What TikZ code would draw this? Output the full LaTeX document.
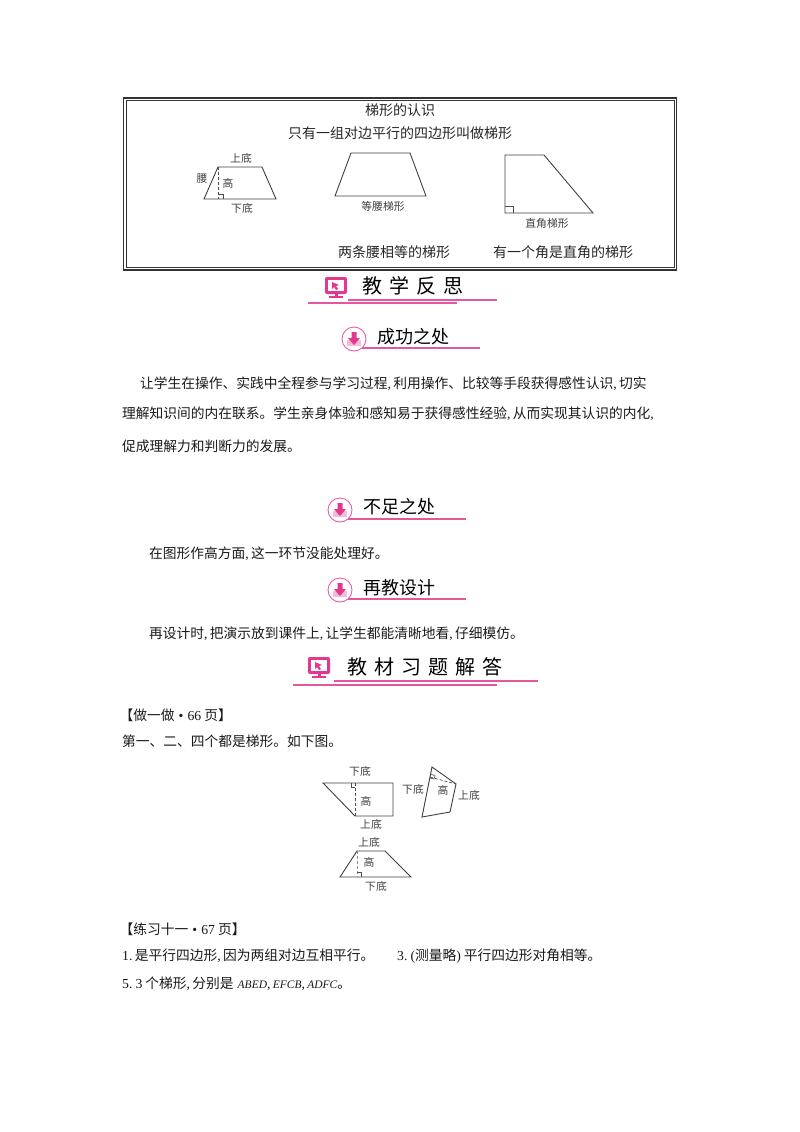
\documentclass[tikz,border=0pt]{standalone}
\usepackage{fontspec}
\setmainfont{Noto Sans CJK SC}
\newfontfamily\latinfont{Liberation Serif}
\usepackage{tikz}
\definecolor{rose}{HTML}{E2388F}
\definecolor{rosepale}{HTML}{F6BBD6}
\newcommand{\cm}{{\latinfont ,\,}}
\newcommand{\lat}[1]{{\latinfont #1}}
\newcommand{\ital}[1]{{\latinfont\itshape\fontsize{11.5}{14}\selectfont #1}}
\tikzset{
    shape line/.style={draw=black!75, line width=0.9pt},
    thin line/.style={draw=black!70, line width=0.6pt},
    height line/.style={draw=black!70, line width=0.7pt, dashed, dash pattern=on 3pt off 2pt},
    rose line/.style={draw=rose!85, line width=1.1pt},
    fig label/.style={text=black!75, font=\fontsize{10.8}{12}\selectfont, inner sep=0pt},
    box text/.style={text=black!85, font=\fontsize{14}{16}\selectfont, inner sep=0pt},
    body text/.style={text=black!90, font=\fontsize{13.75}{16}\selectfont, inner sep=0pt, anchor=west},
    sub head/.style={text=black, font=\fontsize{18}{21}\selectfont, inner sep=0pt},
    main head/.style={text=black, font=\fontsize{20}{24}\selectfont, inner sep=0pt},
    pics/downicon/.style={code={
        \draw[rose!80, line width=0.9pt, fill=white] (0,0) circle (12);
        \fill[rosepale] (-7,1) -- (-7,7) -- (7,7) -- (7,1) -- cycle;
        \fill[rose] (-2.5,-7) -- (2.5,-7) -- (2.5,-1) -- (6,-1) -- (0,6) -- (-6,-1) -- (-2.5,-1) -- cycle;
    }},
    pics/screenicon/.style={code={
        \fill[rose, rounded corners=2pt] (-11,-10) rectangle (11,7);
        \fill[white] (-8,-7) rectangle (8,4);
        \fill[rose] (-4,-5) -- (3,-2) -- (0,-1) -- (2,2) -- (0,3) -- (-2,0) -- (-4,2) -- cycle;
        \fill[rose] (-1.5,7) rectangle (1.5,9);
        \fill[rose] (-7,9) rectangle (7,11);
    }}
}
\begin{document}
\begin{tikzpicture}[x=1pt, y=-1pt]
\useasboundingbox (0,0) rectangle (800,1132);
\draw[black!80, line width=1.6pt] (123.5,98) rectangle (676.5,270);
\draw[black!80, line width=0.7pt] (126,100.5) rectangle (674,267.5);
\node[box text] (boxtitle) at (400,110) {梯形的认识};
\node[box text] (boxdef) at (400,133) {只有一组对边平行的四边形叫做梯形};
\node[box text, anchor=west] (boxisos) at (338,252) {两条腰相等的梯形};
\node[box text, anchor=west] (boxright) at (493,252) {有一个角是直角的梯形};
\draw[shape line] (218,167) -- (262,167) -- (276,199) -- (204,199) -- cycle;
\draw[height line] (218,167) -- (218,199);
\draw[thin line] (218,194) -- (223,194) -- (223,199);
\node[fig label] (topone) at (241,158) {上底};
\node[fig label] (highone) at (228,183) {高};
\node[fig label] (legone) at (202,179) {腰};
\node[fig label] (bottomone) at (242,208) {下底};
\draw[shape line] (351,153) -- (410,153) -- (426,196) -- (335,196) -- cycle;
\node[fig label] (isos) at (383,206) {等腰梯形};
\draw[shape line] (505,155) -- (544,155) -- (593,213) -- (505,213) -- cycle;
\draw[thin line] (505,206) -- (513,206) -- (513,213);
\node[fig label] (rightname) at (547,223) {直角梯形};
\pic at (336,287) {screenicon};
\node[main head] (headone) at (413,286) {教\kern7pt 学\kern7pt 反\kern7pt 思};
\draw[rose line] (348,300) -- (497,300);
\draw[rose line] (308,303) -- (457,303);
\pic at (354,339) {downicon};
\node[sub head] (headgood) at (413,337) {成功之处};
\draw[rose line] (362,348) -- (480,348);
\node[body text] (lineone) at (140,384) {让学生在操作、实践中全程参与学习过程\cm 利用操作、比较等手段获得感性认识\cm 切实};
\node[body text] (linetwo) at (122,414) {理解知识间的内在联系。学生亲身体验和感知易于获得感性经验\cm 从而实现其认识的内化\cm};
\node[body text] (linethree) at (122,446) {促成理解力和判断力的发展。};
\pic at (340,510) {downicon};
\node[sub head] (headlack) at (399,507) {不足之处};
\draw[rose line] (348,519) -- (466,519);
\node[body text] (linefour) at (149,554) {在图形作高方面\cm 这一环节没能处理好。};
\pic at (340,590) {downicon};
\node[sub head] (headagain) at (399,588) {再教设计};
\draw[rose line] (348,599) -- (466,599);
\node[body text] (linefive) at (149,634) {再设计时\cm 把演示放到课件上\cm 让学生都能清晰地看\cm 仔细模仿。};
\pic at (319,667) {screenicon};
\node[main head] (headtwo) at (425,667) {教\kern7pt 材\kern7pt 习\kern7pt 题\kern7pt 解\kern7pt 答};
\draw[rose line] (334,681) -- (538,681);
\draw[rose line] (293,685) -- (497,685);
\node[body text] (tryhead) at (119.5,715) {【做一做\kern4pt\lat{•}\kern4pt\lat{66} 页】};
\node[body text] (tryline) at (122,741) {第一、二、四个都是梯形。如下图。};
\draw[shape line] (323,783) -- (393,783) -- (393,816) -- (355,816) -- cycle;
\draw[height line] (355,783) -- (355,816);
\draw[thin line] (351,783) -- (351,787) -- (355,787);
\node[fig label] (bottomtwo) at (360,771) {下底};
\node[fig label] (hightwo) at (366,801) {高};
\node[fig label] (toptwo) at (371,824) {上底};
\draw[shape line] (432,767) -- (456,784) -- (450,812) -- (422,817) -- cycle;
\draw[height line] (430,777) -- (456,784);
\draw[thin line] (431,774) -- (435,776) -- (434,779) -- (430,778);
\node[fig label] (bottomthree) at (413,789) {下底};
\node[fig label] (highthree) at (443,790) {高};
\node[fig label] (topthree) at (469,795) {上底};
\draw[shape line] (357,851) -- (385,851) -- (411,877) -- (340,877) -- cycle;
\draw[height line, draw=black!45] (357,851) -- (357,877);
\draw[thin line] (357,872) -- (361,872) -- (361,877);
\node[fig label] (topfour) at (369,842) {上底};
\node[fig label] (highfour) at (369,862) {高};
\node[fig label] (bottomfour) at (376,886) {下底};
\node[body text] (workhead) at (119.5,929) {【练习十一\kern4pt\lat{•}\kern4pt\lat{67} 页】};
\node[body text] (workone) at (122,956) {\lat{1.}\,是平行四边形\cm 因为两组对边互相平行。};
\node[body text] (worktwo) at (397,956) {\lat{3.}\kern3pt\lat{(}测量略\lat{)}\kern3pt 平行四边形对角相等。};
\node[body text] (workthree) at (122,984) {\lat{5.}\kern3pt\lat{3} 个梯形\cm 分别是\kern4pt\ital{ABED}\cm\ital{EFCB}\cm\ital{ADFC}。};
\end{tikzpicture}
\end{document}
